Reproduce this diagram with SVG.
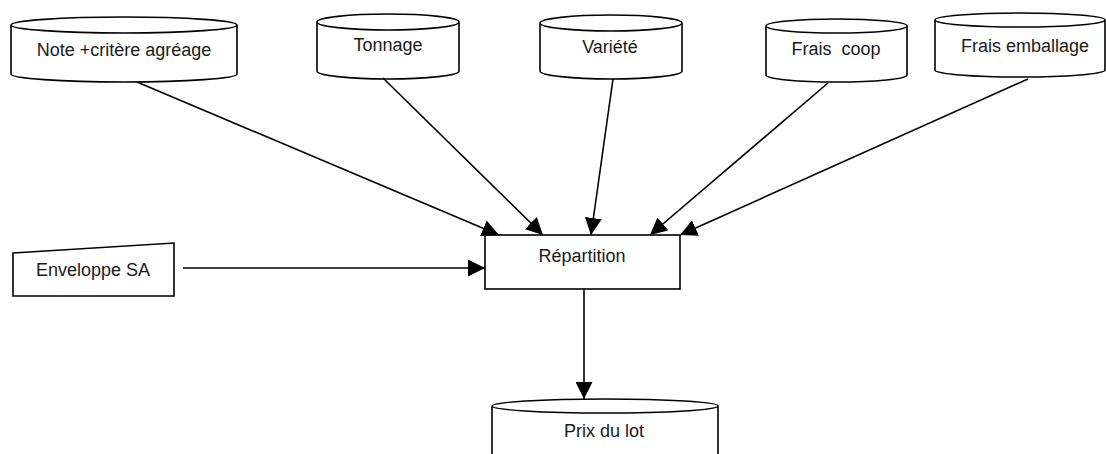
<svg xmlns="http://www.w3.org/2000/svg" width="1106" height="454" viewBox="0 0 1106 454">
<style>
.shape{fill:#fff;stroke:#000;stroke-width:1.6}
.lbl{font-family:"Liberation Sans",Arial,sans-serif;font-size:18px;fill:#1a1a1a;text-anchor:middle}
.conn{stroke:#000;stroke-width:1.6;fill:none;marker-end:url(#ah)}
</style>
<defs>
<marker id="ah" markerUnits="userSpaceOnUse" markerWidth="17" markerHeight="17" refX="16" refY="8" orient="auto" viewBox="0 0 16 16">
<path d="M0,0 L16,8 L0,16 Z" fill="#000"/>
</marker>
</defs>
<g id="n-note">
<path class="shape" d="M11,25 L11,74 A113,8 0 0 0 237,74 L237,25 A113,8 0 0 0 11,25 A113,8 0 0 0 237,25"/>
<text class="lbl" x="124" y="56">Note +critère agréage</text>
</g>
<g id="n-tonnage">
<path class="shape" d="M317,22 L317,71 A71,8 0 0 0 459,71 L459,22 A71,8 0 0 0 317,22 A71,8 0 0 0 459,22"/>
<text class="lbl" x="388" y="51">Tonnage</text>
</g>
<g id="n-variete">
<path class="shape" d="M540,23 L540,71 A71,8 0 0 0 682,71 L682,23 A71,8 0 0 0 540,23 A71,8 0 0 0 682,23"/>
<text class="lbl" x="610" y="53">Variété</text>
</g>
<g id="n-fraiscoop">
<path class="shape" d="M766,26 L766,75 A70.5,7 0 0 0 907,75 L907,26 A70.5,7 0 0 0 766,26 A70.5,7 0 0 0 907,26"/>
<text class="lbl" x="836" y="55" xml:space="preserve">Frais  coop</text>
</g>
<g id="n-fraisemb">
<path class="shape" d="M935,20 L935,70 A85,7 0 0 0 1105,70 L1105,20 A85,7 0 0 0 935,20 A85,7 0 0 0 1105,20"/>
<text class="lbl" x="1025" y="52">Frais emballage</text>
</g>
<g id="n-enveloppe">
<path class="shape" d="M13,253 L174,243 L174,296 L13,296 Z"/>
<text class="lbl" x="93" y="276">Enveloppe SA</text>
</g>
<g id="n-repartition">
<rect class="shape" x="485" y="235" width="195" height="54"/>
<text class="lbl" x="582" y="262">Répartition</text>
</g>
<g id="n-prix">
<path class="shape" d="M492,406 L492,470 L718,470 L718,406 A113,7 0 0 0 492,406 A113,7 0 0 0 718,406"/>
<text class="lbl" x="604" y="437">Prix du lot</text>
</g>
<g id="connectors">
<line class="conn" x1="137" y1="82" x2="499" y2="235"/>
<line class="conn" x1="383" y1="78" x2="543" y2="235"/>
<line class="conn" x1="613" y1="79" x2="591" y2="235"/>
<line class="conn" x1="828" y1="83" x2="650" y2="235"/>
<line class="conn" x1="1028" y1="79" x2="680" y2="235"/>
<line class="conn" x1="183" y1="268" x2="485" y2="268"/>
<line class="conn" x1="584" y1="289" x2="584" y2="399"/>
</g>
</svg>
